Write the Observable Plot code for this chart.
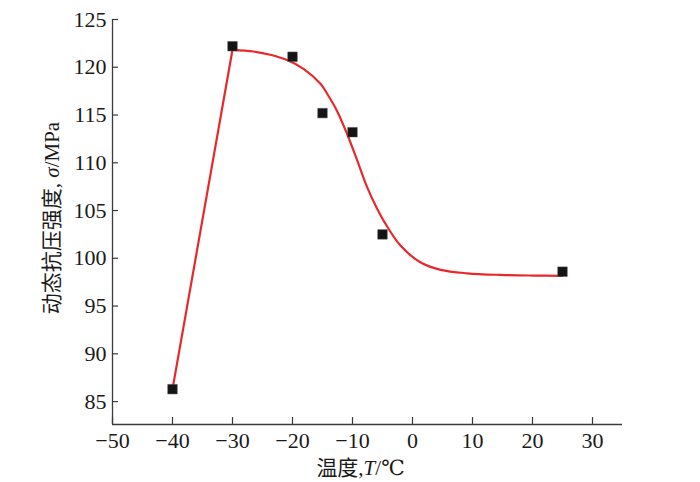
<!DOCTYPE html>
<html><head><meta charset="utf-8">
<script src="https://cdn.jsdelivr.net/npm/d3@7"></script>
<script src="https://cdn.jsdelivr.net/npm/@observablehq/plot@0.6"></script>
<style>body{margin:0;background:#fff} svg{display:block}</style>
</head><body><div id="chart"></div>
<script>
// measured points
const temps = [-40, -30, -20, -15, -10, -5, 25];
const strengths = [86.3, 122.2, 121.1, 115.2, 113.2, 102.5, 98.6];
// straight rising segment of the red curve
const riseT = [-40, -30];
const riseV = [86.3, 121.83];
// fitted (sigmoid-looking) part of the red curve
const fitT = [-30, -26.5, -23.7, -20.9, -18.1, -15.3, -14.2, -12.6, -10.9, -9.2, -7.6, -5.9, -4.2, -2, 1.3, 4.7, 9.1, 14.7, 20.2, 25];
const fitV = [121.83, 121.65, 121.31, 120.75, 119.81, 118.24, 117.2, 115.45, 113.01, 110.22, 107.5, 105.2, 103.3, 101.33, 99.58, 98.79, 98.43, 98.26, 98.19, 98.16];
const xTicks = [-50, -40, -30, -20, -10, 0, 10, 20, 30];
const yTicks = [85, 90, 95, 100, 105, 110, 115, 120, 125];
const xDomain = [-50, 35];
const yDomain = [82.6, 125];
const xLabel = "温度,T/℃";
const yLabel = "动态抗压强度, σ/MPa";

const points = temps.map((t, i) => ({t, v: strengths[i]}));
const rise = riseT.map((t, i) => ({t, v: riseV[i]}));
const fit = fitT.map((t, i) => ({t, v: fitV[i]}));

const font = "Liberation Serif, Times New Roman, Times, DejaVu Serif, Noto Sans CJK SC, serif";
const axisColor = "#3a3a3a";
const red = "#e8282b";

const chart = Plot.plot({
  width: 700,
  height: 482,
  marginLeft: 112,
  marginRight: 78,
  marginTop: 19,
  marginBottom: 58,
  style: {fontFamily: font, fontSize: "22px", color: "#1a1a1a", background: "#fff"},
  x: {domain: xDomain},
  y: {domain: yDomain},
  marks: [
    Plot.ruleX([xDomain[0]], {stroke: axisColor, strokeWidth: 1.3}),
    Plot.ruleY([yDomain[0]], {stroke: axisColor, strokeWidth: 1.3}),
    Plot.axisX({ticks: xTicks, tickSize: -7, text: null, label: null, stroke: axisColor, strokeWidth: 1.2}),
    Plot.axisX({ticks: xTicks, tickSize: 0, tickPadding: 8, label: null, fontSize: 22, tickFormat: d => d3.format("d")(d)}),
    Plot.axisY({ticks: yTicks, tickSize: -6, text: null, label: null, stroke: axisColor, strokeWidth: 1.2}),
    Plot.axisY({ticks: yTicks, tickSize: 0, tickPadding: 6, label: null, fontSize: 22}),
    Plot.line(rise, {x: "t", y: "v", stroke: red, strokeWidth: 2.2}),
    Plot.line(fit, {x: "t", y: "v", curve: "catmull-rom", stroke: red, strokeWidth: 2.2}),
    Plot.dot(points, {x: "t", y: "v", symbol: "square", r: 5.4, fill: "#141414", stroke: "#555", strokeWidth: 0.5}),
    Plot.text([xLabel], {frameAnchor: "bottom", dx: -7, dy: 44, lineAnchor: "middle", textAnchor: "middle", fontSize: 21, fill: "#1a1a1a"}),
    Plot.text([yLabel], {frameAnchor: "left", rotate: -90, dx: -60, dy: -4, lineAnchor: "middle", textAnchor: "middle", fontSize: 21, fill: "#1a1a1a"})
  ]
});

// use a serif face for all text (set directly on the SVG so nothing overrides it)
chart.setAttribute("font-family", font);
chart.querySelectorAll("text, g").forEach(el => { el.style.fontFamily = font; el.style.fontVariant = "normal"; });

// italicize the variable symbols while keeping them as real text
function italicize(svg, full, sym) {
  svg.querySelectorAll("text").forEach(el => {
    if (el.textContent === full) {
      const idx = full.indexOf(sym);
      const parts = [full.slice(0, idx), sym, full.slice(idx + sym.length)];
      while (el.firstChild) el.removeChild(el.firstChild);
      parts.forEach((p, k) => {
        const ts = document.createElementNS("http://www.w3.org/2000/svg", "tspan");
        ts.textContent = p;
        if (k === 1) ts.setAttribute("font-style", "italic");
        el.appendChild(ts);
      });
    }
  });
}
italicize(chart, xLabel, "T");
italicize(chart, yLabel, "σ");

document.getElementById("chart").appendChild(chart);
</script>
</body></html>
